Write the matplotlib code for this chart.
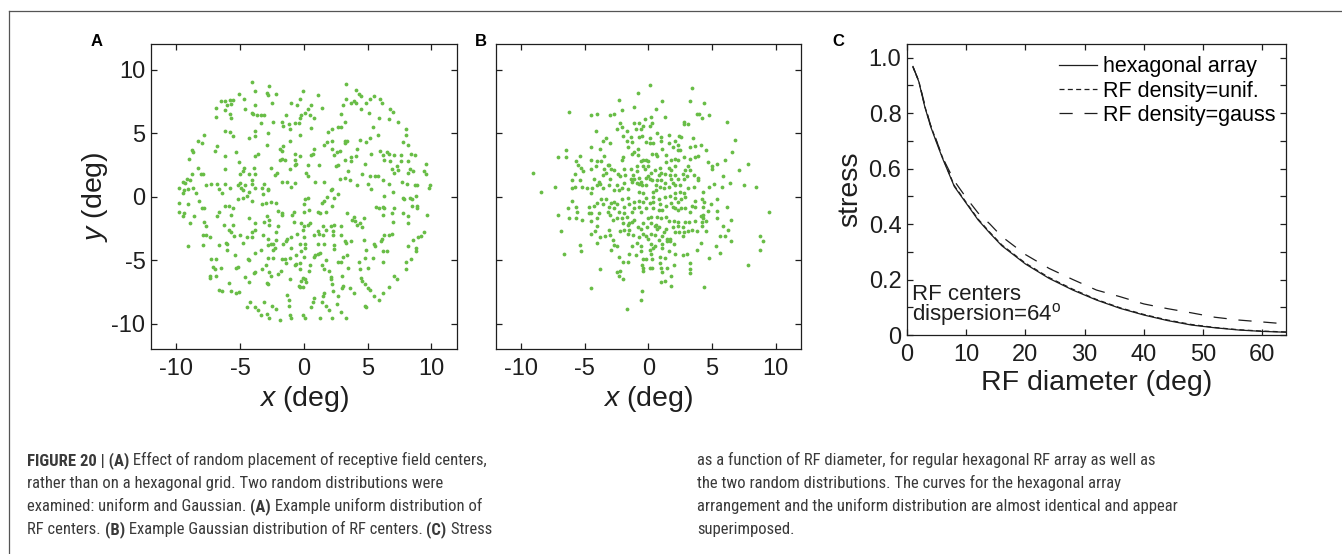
import numpy as np
import matplotlib
matplotlib.use("Agg")
import matplotlib.pyplot as plt
from matplotlib import font_manager as fm
from matplotlib.lines import Line2D
from matplotlib.ticker import FixedLocator, FixedFormatter

# RF centres, uniform placement (deg)
uniform_pts = [
    (-4.1, 9.0), (-2.7, 8.7), (3.3, 8.9), (-3.8, 8.3), (4.1, 8.4), (-2.9, 8.2), (-2.2, 8.1), (-0.1, 8.3),
    (-5.1, 8.1), (4.3, 8.1), (4.5, 7.9), (5.5, 7.9), (1.1, 8.0), (-4.7, 7.7), (5.2, 7.7), (6.0, 7.7),
    (-5.8, 7.6), (-5.6, 7.6), (-6.2, 7.5), (-6.5, 7.5), (-2.8, 8.0), (3.3, 7.7), (-0.3, 7.7), (3.9, 7.5),
    (4.1, 7.4), (3.7, 7.4), (4.9, 7.4), (6.1, 7.4), (-5.7, 7.3), (-6.0, 7.2), (-3.8, 7.2), (-2.5, 7.4),
    (-1.0, 7.4), (-0.5, 7.2), (0.6, 7.2), (3.1, 7.2), (-6.9, 7.0), (-4.6, 6.9), (0.3, 6.9), (1.4, 7.0),
    (4.5, 6.9), (6.8, 6.9), (7.0, 6.7), (-6.2, 6.8), (-5.8, 6.5), (-4.1, 6.6), (-4.0, 6.5), (-3.7, 6.4),
    (-3.4, 6.4), (-3.1, 6.4), (0.1, 6.6), (-0.2, 6.4), (0.5, 6.4), (0.8, 6.2), (-1.4, 6.4), (-6.9, 6.3),
    (-5.7, 6.2), (2.9, 6.5), (5.1, 6.6), (5.9, 6.2), (6.7, 6.1), (-0.3, 6.2), (-1.7, 5.9), (-1.2, 5.7),
    (-0.7, 5.8), (-0.4, 5.8), (-2.4, 5.9), (-3.4, 5.8), (3.2, 5.9), (7.4, 5.9), (-1.6, 5.6), (-1.1, 5.3),
    (0.6, 5.4), (5.4, 5.5), (2.9, 5.5), (2.7, 5.5), (8.0, 5.3), (2.2, 5.3), (1.9, 5.1), (-6.2, 5.2),
    (-5.8, 5.1), (-5.6, 4.8), (-3.8, 5.2), (-3.8, 4.8), (-2.8, 5.0), (-0.3, 4.9), (5.8, 4.9), (8.0, 4.9),
    (-7.8, 4.9), (-4.3, 4.6), (-1.1, 4.4), (2.2, 4.4), (3.2, 4.4), (3.4, 4.4), (4.4, 4.5), (5.2, 4.6),
    (4.9, 4.3), (7.8, 4.3), (8.2, 4.1), (-8.3, 4.4), (-8.0, 4.2), (-6.8, 4.0), (-2.9, 4.1), (-1.6, 4.0),
    (1.8, 4.3), (1.6, 4.1), (3.2, 4.2), (-1.9, 3.8), (-1.7, 3.6), (0.8, 3.8), (4.2, 3.8), (-8.8, 3.7),
    (-8.7, 3.5), (-7.0, 3.6), (-5.3, 3.5), (-3.6, 3.4), (-3.8, 3.2), (-0.7, 3.4), (-0.3, 3.2), (0.6, 3.3),
    (0.75, 3.35), (2.2, 3.8), (2.6, 3.5), (2.8, 3.6), (2.4, 3.3), (5.3, 3.4), (6.0, 3.6), (6.5, 3.5),
    (6.7, 3.4), (6.2, 3.3), (7.1, 3.3), (7.6, 3.3), (8.4, 3.4), (8.7, 3.3), (-9.0, 3.0), (-6.2, 3.2),
    (-1.7, 3.0), (-1.5, 2.9), (-1.9, 2.9), (-0.7, 2.9), (-0.6, 2.6), (-0.7, 2.5), (0.3, 2.5), (1.2, 2.5),
    (3.2, 2.9), (3.7, 3.1), (4.1, 3.2), (3.7, 2.8), (4.8, 2.6), (6.3, 2.9), (6.8, 2.8), (7.6, 2.8),
    (8.2, 2.8), (9.6, 2.6), (-5.1, 2.7), (-8.3, 2.3), (-6.2, 2.2), (-4.7, 2.3), (-3.9, 2.3), (-2.6, 2.3),
    (-4.8, 2.0), (-5.0, 1.8), (-4.3, 1.8), (-3.8, 1.8), (-8.1, 1.8), (-7.9, 1.8), (-8.8, 1.8), (-2.1, 1.9),
    (-2.3, 1.7), (-1.1, 2.2), (0.2, 1.9), (2.5, 2.4), (2.7, 2.5), (3.5, 2.0), (4.6, 1.8), (5.2, 1.6),
    (5.6, 1.6), (5.8, 1.65), (6.9, 2.2), (7.1, 1.9), (7.4, 2.1), (7.3, 2.4), (8.3, 2.2), (8.2, 1.9),
    (8.6, 2.0), (9.4, 2.0), (9.6, 1.8), (-9.2, 1.4), (-9.5, 1.2), (-9.3, 1.1), (-9.8, 0.7), (-9.4, 0.5),
    (-8.9, 1.3), (-9.1, 0.6), (-8.7, 0.7), (-7.7, 0.9), (-7.3, 1.0), (-6.8, 1.0), (-6.2, 1.0), (-5.8, 0.7),
    (-6.7, 0.6), (-5.0, 1.1), (-5.2, 0.9), (-4.9, 0.7), (-4.6, 0.9), (-4.1, 1.3), (-4.1, 1.0), (-3.8, 0.7),
    (-3.3, 0.7), (-3.1, 1.0), (-2.8, 0.6), (-1.7, 1.2), (-1.3, 1.2), (-1.0, 0.8), (-0.7, 1.1), (0.3, 1.6),
    (0.9, 1.2), (1.6, 1.2), (2.2, 0.6), (2.8, 1.4), (3.2, 1.5), (3.6, 1.3), (4.2, 0.9), (5.0, 1.0),
    (5.3, 0.6), (6.2, 1.3), (6.7, 1.0), (7.0, 0.4), (7.7, 1.2), (8.1, 1.0), (8.7, 0.9), (8.9, 0.9),
    (9.9, 0.9), (9.8, 0.7), (-9.5, 0.3), (-8.5, 0.3), (-6.4, 0.3), (-4.8, 0.5), (-4.3, 0.4), (-2.8, 0.5),
    (2.1, 0.5), (-3.2, 0.2), (-4.5, 0.1),
    (-9.8, -0.5), (-9.1, -0.6), (-8.2, -0.3), (-9.8, -1.2), (-9.4, -1.3), (-9.5, -1.5), (-8.6, -1.5),
    (-8.9, -2.1), (-8.0, -0.9), (-7.8, -0.9), (-7.8, -2.0), (-7.7, -2.3), (-7.9, -3.0), (-7.7, -3.0),
    (-7.4, -3.2), (-7.9, -3.8), (-9.1, -3.9), (-6.7, -1.2), (-6.8, -1.5), (-6.2, -0.7), (-5.9, -0.7),
    (-5.7, -1.4), (-5.6, -0.9), (-6.3, -2.2), (-5.6, -2.2), (-5.9, -2.6), (-5.7, -2.8), (-5.5, -3.1),
    (-5.0, -3.0), (-6.1, -3.6), (-6.0, -3.7), (-6.7, -3.8), (-6.0, -4.2), (-4.8, -3.6), (-4.5, -3.2),
    (-4.1, -3.2), (-4.1, -2.8), (-3.8, -2.6), (-3.8, -2.1), (-4.3, -1.7), (-5.2, -0.2), (-4.8, -0.1),
    (-4.1, -0.3), (-3.3, -0.6), (-3.0, -0.5), (-2.6, -0.4), (-2.2, -0.5), (-2.0, -1.1), (-1.7, -1.4),
    (-2.9, -1.5), (-2.7, -1.8), (-3.1, -2.0), (-2.7, -2.2), (-2.0, -2.3), (-3.2, -3.0), (-2.8, -3.3),
    (-2.6, -3.7), (-2.8, -3.8), (-2.4, -3.7), (-2.2, -3.4), (-2.2, -2.8), (-2.3, -4.0), (-2.4, -4.2),
    (-2.8, -4.8), (-2.4, -4.8), (-3.4, -4.2), (-3.8, -4.4), (-4.4, -4.9), (-4.3, -5.0), (-5.4, -4.6),
    (-7.3, -4.9), (-6.9, -4.9), (-6.5, -5.6), (-7.1, -5.5), (-7.0, -5.7), (-7.4, -6.2), (-6.9, -6.2),
    (-7.4, -6.4), (-5.3, -5.6), (-5.2, -5.5), (-4.6, -6.3), (-3.8, -5.9), (-3.9, -6.0), (-3.3, -5.7),
    (-3.0, -5.4), (-2.7, -5.9), (-2.6, -6.2), (-2.0, -6.1), (-1.8, -5.8), (-4.3, -6.7), (-5.9, -6.8),
    (-2.9, -6.8), (-2.8, -6.9), (-6.7, -7.3), (-6.4, -7.4), (-5.7, -7.4), (-5.3, -7.6), (-5.1, -7.5),
    (-4.2, -8.3), (-4.5, -8.7), (-3.8, -8.7), (-3.6, -8.9), (-3.4, -9.3), (-2.9, -9.2), (-2.7, -9.5),
    (-3.1, -8.3), (-2.5, -8.6), (-2.2, -8.8), (-1.9, -9.7), (-1.3, -7.7), (-1.2, -8.1), (-1.2, -8.6),
    (-1.1, -9.3), (-1.0, -9.5), (-1.1, -6.5), (-1.5, -4.9), (-1.7, -4.9), (-1.4, -5.2), (-1.6, -3.7),
    (-1.4, -3.5), (-1.3, -3.3), (-1.0, -4.0), (-0.7, -5.4), (-0.6, -5.3), (-0.3, -5.2), (-0.2, -4.3),
    (-0.6, -4.6), (-1.1, -4.8), (-1.7, -1.3), (-0.8, -1.2), (-0.9, -1.4), (-0.5, -2.9), (-0.2, -2.1),
    (0.0, -2.3), (-0.1, -2.6), (0.3, -2.2), (0.5, -2.1), (0.0, -0.6), (0.3, -0.1), (0.1, -0.15),
    (0.4, -1.0), (0.0, -3.2), (0.1, -3.7), (-0.3, -3.7), (0.1, -4.0), (-0.1, -6.4), (0.1, -6.5),
    (0.2, -6.7), (-0.3, -7.1), (-0.1, -7.1), (-0.4, -7.0), (0.4, -5.8), (0.5, -5.4), (0.8, -4.7),
    (0.9, -4.6), (1.1, -4.5), (1.3, -4.4), (1.4, -5.4), (1.6, -5.7), (1.7, -5.0), (2.0, -5.8),
    (1.6, -3.7), (1.1, -3.7), (0.8, -3.0), (1.1, -2.7), (1.2, -2.9), (1.5, -3.0), (1.7, -2.6),
    (1.5, -2.3), (2.3, -3.0), (2.3, -2.7), (2.1, -2.3), (2.4, -2.2), (2.9, -2.3), (2.9, -3.0),
    (2.4, -3.8), (2.4, -4.1), (3.2, -3.5), (3.3, -3.6), (3.7, -3.5), (3.1, -4.7), (2.7, -5.1),
    (2.9, -5.1), (3.4, -4.6), (3.5, -5.6), (3.0, -6.2), (2.1, -6.3), (2.1, -6.5), (2.2, -6.9),
    (2.3, -7.4), (3.1, -7.0), (3.0, -7.2), (3.6, -7.2), (3.9, -7.6), (2.7, -7.8), (2.6, -8.4),
    (2.9, -9.1), (3.3, -9.5), (2.2, -9.5), (2.0, -8.9), (1.7, -8.6), (1.5, -7.8), (1.6, -7.6),
    (1.4, -8.3), (0.8, -8.0), (0.7, -8.3), (0.6, -8.7), (1.3, -9.5), (0.1, -9.5), (-0.1, -9.3),
    (1.1, -1.2), (1.3, -1.3), (1.7, -1.2), (1.4, -0.5), (1.6, -0.3), (1.8, 0.0), (2.4, -0.1),
    (2.7, 0.2), (2.2, -0.7), (3.4, -1.3), (3.9, -1.6), (4.0, -1.9), (4.2, -2.2), (4.4, -2.1),
    (4.7, -1.7), (4.6, -2.4), (4.7, -3.4), (4.9, -4.2), (4.3, -5.1), (4.4, -5.7), (5.0, -5.6),
    (4.8, -4.8), (5.4, -4.8), (6.2, -5.1), (5.5, -3.7), (5.6, -3.9), (6.1, -3.3), (6.3, -3.0),
    (6.05, -3.45), (6.7, -3.0), (6.9, -2.9), (6.2, -4.3), (6.5, -4.3), (4.5, -6.4), (4.6, -6.6),
    (4.8, -6.9), (5.0, -7.2), (5.2, -7.3), (5.5, -7.8), (5.9, -8.1), (6.2, -7.6), (4.8, -8.6),
    (4.9, -8.65), (6.7, -7.1), (7.1, -6.2), (7.3, -6.5), (8.0, -5.1), (8.4, -4.9), (8.0, -5.7),
    (8.2, -3.9), (8.8, -4.0), (8.8, -4.3), (8.6, -3.4), (9.0, -3.2), (9.2, -3.1), (9.4, -2.8),
    (7.0, -2.0), (8.2, -2.1), (8.2, -1.5), (7.8, -1.3), (6.9, -1.3), (6.2, -1.4), (6.3, -0.9),
    (5.7, -0.8), (5.9, -0.9), (6.2, -0.8), (7.1, -0.9), (6.3, 0.1), (7.8, -0.1), (7.9, -0.15),
    (8.3, -0.1), (8.5, -0.2), (8.8, 0.1), (8.9, -0.7), (8.9, -0.9), (8.5, -0.7), (9.7, -1.4),
    (3.8, -1.8), (0.0, -1.2), (-0.8, -2.0), (-1.0, -3.2), (-0.3, -5.7), (0.0, -4.7), (-0.2, -6.6),
]

# RF centres, Gaussian placement (deg)
gauss_pts = [
    (0.1, 8.8), (3.4, 8.6), (-0.8, 8.2), (-2.3, 7.6), (3.3, 7.5), (4.4, 7.4), (1.1, 7.5), (-6.2, 6.7),
    (-2.1, 6.8), (-1.1, 7.1), (0.6, 6.9), (-4.0, 6.5), (-4.5, 6.4), (-3.0, 6.4), (-2.7, 6.5), (3.8, 6.5),
    (4.0, 6.5), (4.2, 6.2), (4.8, 6.4), (1.3, 6.3), (0.2, 6.3), (-0.3, 6.1), (6.2, 5.9), (2.8, 5.9),
    (2.8, 5.7), (3.1, 5.7), (-2.2, 5.8), (-2.1, 5.5), (-1.1, 5.8), (-0.7, 5.8), (0.3, 5.8), (0.1, 5.6),
    (-0.4, 5.6), (-2.5, 5.3), (-1.7, 5.2), (-1.0, 5.3), (-0.6, 5.3), (0.7, 5.0), (1.6, 4.9), (-4.1, 5.2),
    (2.4, 4.8), (2.6, 4.7), (-2.0, 4.8), (-1.4, 4.7), (-0.7, 4.7), (-0.5, 4.8), (0.1, 4.6), (1.0, 4.7),
    (1.0, 4.4), (2.1, 4.4), (3.5, 4.6), (6.8, 4.5), (-3.3, 4.6), (-3.6, 4.4), (-3.0, 4.2), (-1.7, 4.4),
    (-1.3, 4.3), (-0.2, 4.3), (0.1, 4.2), (0.4, 4.2), (1.6, 4.2), (2.3, 4.1), (3.3, 3.9), (3.7, 4.0),
    (4.1, 4.1), (-4.5, 3.9), (-3.8, 3.8), (-6.5, 3.7), (-1.6, 3.9), (-0.8, 3.8), (1.1, 3.8), (1.9, 3.9),
    (2.3, 3.7), (2.5, 3.7), (4.5, 3.7), (6.6, 3.5), (-5.4, 3.2), (-7.1, 3.1), (-6.5, 3.1), (-4.5, 2.9),
    (-4.0, 2.8), (-3.7, 2.8), (-3.5, 3.2), (-2.1, 2.9), (-2.0, 3.1), (-1.3, 3.4), (-1.1, 3.5), (-0.8, 3.3),
    (-0.6, 2.8), (-0.4, 2.9), (-0.2, 2.9), (0.0, 2.8), (0.3, 3.4), (0.6, 3.4), (0.7, 3.2), (1.4, 3.3),
    (1.8, 2.9), (2.1, 3.0), (2.3, 2.9), (2.8, 3.1), (3.3, 3.0), (3.7, 3.1), (3.9, 3.2), (4.7, 2.7),
    (5.0, 2.4), (5.0, 2.2), (5.4, 2.6), (6.0, 2.9), (7.8, 2.6), (7.1, 2.1), (-5.7, 2.8), (-5.5, 2.5),
    (-5.3, 2.3), (-5.8, 1.8), (-5.1, 2.0), (-4.5, 2.2), (-4.1, 2.4), (-3.5, 2.2), (-3.2, 2.5), (-3.1, 2.5),
    (-2.9, 2.2), (-2.7, 2.1), (-2.4, 1.8), (-2.2, 1.6), (-3.3, 1.9), (-3.0, 1.4), (-3.6, 1.7), (-4.3, 1.4),
    (-3.9, 1.2), (-3.8, 1.0), (-6.0, 1.3), (-5.4, 1.3), (-7.3, 0.8), (-8.4, 0.4), (-9.1, 1.9), (-6.0, 0.7),
    (-5.8, 0.8), (-5.2, 0.8), (-4.8, 0.7), (-4.4, 0.7), (-4.0, 0.9), (-3.6, 0.7), (-1.9, 2.2), (-1.4, 2.2),
    (-0.9, 2.4), (-0.9, 2.0), (-0.4, 2.4), (-0.3, 2.2), (0.0, 2.4), (0.5, 2.1), (0.9, 2.3), (1.4, 2.7),
    (1.6, 2.3), (1.8, 2.1), (2.1, 2.4), (2.9, 2.1), (3.0, 1.6), (3.6, 1.7), (3.9, 1.5), (3.9, 1.3),
    (5.9, 1.6), (6.4, 1.1), (7.5, 0.9), (8.5, 0.8), (5.2, 1.0), (4.8, 0.8), (5.8, 0.8), (4.3, 0.4),
    (-1.4, 1.4), (-1.2, 1.7), (-1.3, 1.2), (-1.9, 1.1), (-2.1, 0.7), (-2.3, 0.5), (-1.6, 0.6), (-0.9, 1.1),
    (-0.7, 1.0), (-0.5, 0.9), (-0.2, 0.9), (0.0, 1.6), (0.1, 1.4), (0.3, 1.3), (0.7, 1.3), (1.0, 1.3),
    (0.9, 0.8), (1.2, 0.7), (1.6, 0.8), (1.8, 1.4), (1.9, 1.1), (2.1, 0.9), (2.5, 0.9), (2.8, 1.4),
    (3.1, 0.7), (3.6, 0.8), (-0.7, 0.4), (-0.4, 0.3), (0.4, 0.4), (0.6, 0.5), (2.1, 0.3), (2.5, 0.4),
    (2.8, 0.3), (-4.5, 0.3), (-0.7, 1.5), (-0.6, 1.2), (-0.2, 1.5), (0.6, 0.9), (1.3, 1.1), (1.7, 1.7),
    (2.1, 1.7), (2.3, 1.4), (2.7, 1.8), (3.1, 2.4), (3.3, 2.1), (0.8, 1.7), (1.0, 1.9), (1.3, 1.8),
    (0.2, 1.9), (-1.1, 1.4), (-1.8, 1.7), (-2.5, 0.9), (-3.1, 0.9), (-2.7, 0.5),
    (-6.0, -0.3), (-6.3, -0.9), (-7.1, -1.4), (-5.7, -0.8), (-5.6, -1.2), (-6.2, -1.7), (-5.7, -1.7),
    (-5.2, -1.8), (-4.7, -0.8), (-4.7, -1.3), (-4.5, -1.3), (-4.3, -0.7), (-4.0, -0.5), (-3.7, -0.2),
    (-3.9, -1.3), (-4.0, -1.7), (-4.5, -1.9), (-4.0, -2.3), (-6.9, -2.7), (-5.4, -3.8), (-5.3, -4.3),
    (-6.6, -4.5), (-4.2, -2.7), (-4.5, -2.9), (-3.8, -3.2), (-4.0, -3.6), (-3.4, -3.1), (-3.1, -2.6),
    (-3.0, -3.0), (-2.8, -3.4), (-2.7, -3.8), (-2.9, -4.2), (-2.5, -3.9), (-2.3, -4.7), (-2.0, -5.1),
    (-1.6, -5.1), (-3.8, -5.7), (-2.5, -5.9), (-2.2, -5.8), (-2.3, -6.2), (-2.0, -6.5), (-4.5, -7.2),
    (-2.9, -0.5), (-2.7, -0.9), (-2.3, -1.2), (-2.7, -0.4), (-2.1, -0.2), (-1.9, -0.8), (-2.5, -1.7),
    (-2.1, -1.7), (-1.9, -1.3), (-1.7, -1.6), (-1.5, -2.1), (-2.0, -2.1), (-1.6, -2.2), (-1.3, -2.0),
    (-0.8, -2.4), (-2.2, -2.7), (-1.9, -2.6), (-1.6, -2.9), (-1.2, -3.0), (-0.7, -3.2), (-0.9, -3.6),
    (-1.3, -3.9), (-0.6, -3.9), (-1.0, -4.6), (-0.6, -4.3), (-1.5, -4.5), (-0.4, -4.9), (-0.5, -5.4),
    (-0.4, -5.6), (-0.4, -5.8), (0.1, -5.6), (0.3, -5.6), (0.9, -5.2), (1.0, -5.6), (1.1, -5.9),
    (1.3, -6.6), (1.8, -7.0), (1.8, -6.2), (2.0, -5.4), (0.9, -4.7), (1.3, -4.8), (0.3, -4.9),
    (-0.2, -4.9), (0.1, -4.2), (0.4, -4.0), (0.5, -3.9), (0.2, -3.7), (0.0, -3.3), (-0.2, -3.1),
    (-0.4, -2.9), (0.2, -2.9), (0.5, -3.0), (0.8, -3.4), (1.1, -3.1), (1.1, -3.7), (1.5, -3.3),
    (1.7, -3.3), (1.5, -3.5), (1.7, -3.5), (2.0, -3.7), (1.1, -4.0), (1.6, -4.3), (2.1, -4.5),
    (2.7, -4.6), (3.0, -4.5), (3.3, -5.2), (3.3, -5.7), (3.8, -4.2), (4.1, -3.6), (2.7, -3.1),
    (2.4, -2.8), (2.1, -2.8), (2.8, -2.8), (3.1, -2.7), (3.4, -2.6), (3.8, -2.7), (4.5, -2.7),
    (1.9, -2.4), (2.3, -2.3), (2.7, -2.4), (1.4, -2.5), (1.2, -2.8), (0.5, -2.3), (0.7, -2.5),
    (0.8, -2.4), (0.6, -2.25), (0.2, -2.1), (-0.1, -2.4), (-0.4, -2.1), (0.0, -1.7), (0.2, -1.6),
    (0.7, -1.6), (1.0, -1.7), (1.4, -1.6), (1.6, -1.9), (2.0, -1.9), (2.3, -2.0), (2.9, -2.0),
    (3.2, -2.0), (3.7, -1.9), (4.2, -2.3), (4.2, -2.0), (4.5, -1.9), (4.3, -1.7), (4.1, -1.5),
    (4.3, -1.4), (5.4, -1.7), (6.5, -1.8), (5.9, -2.3), (6.3, -2.6), (5.6, -3.1), (6.0, -3.1),
    (6.5, -3.5), (5.3, -3.9), (5.6, -4.4), (4.8, -4.8), (4.4, -7.1), (7.8, -5.4), (8.8, -4.2),
    (9.0, -3.5), (8.8, -3.1), (9.5, -1.2), (-0.5, -7.4), (-0.6, -8.1), (-1.7, -8.8), (5.4, -1.1),
    (5.4, -0.2), (6.2, -0.8), (4.9, -0.6), (4.7, -1.1), (4.3, -0.8), (3.7, -0.8), (3.4, -0.7),
    (3.7, -0.3), (4.2, -0.2), (4.4, -0.4), (2.9, -0.9), (3.3, -1.2), (2.6, -0.9), (2.1, -0.9),
    (2.3, -1.0), (1.9, -0.8), (1.4, -0.7), (1.8, -0.5), (2.3, -0.4), (2.6, -0.2), (2.1, -0.1),
    (2.9, 0.0), (1.1, -1.0), (0.8, -1.0), (0.4, -0.9), (0.9, -0.6), (0.4, -0.4), (0.1, -0.5),
    (-0.2, -0.9), (-0.6, -1.2), (-0.7, -0.8), (-1.1, -0.9), (-1.3, -1.2), (-1.5, -0.6), (-1.1, -0.4),
    (-0.7, -0.3), (-0.4, -0.4), (-0.2, -0.1), (0.4, 0.0), (0.8, -0.2), (1.3, 0.0), (1.7, 0.1),
    (-1.6, -0.1), (-2.5, -0.6), (-3.1, -0.8), (-3.6, -0.6), (-3.3, -0.2), (-3.2, -1.2), (-3.0, -1.4),
    (-2.8, -1.8), (-1.5, -2.6), (-1.1, -1.8), (-0.6, -2.5), (0.2, -4.5), (1.5, -5.6), (3.3, -6.0),
    (1.0, -6.7),
]

# stress vs RF diameter (RF centres dispersion = 64 deg)
rf_diam = [1, 2, 3, 4, 5, 6, 8, 10, 12, 14, 16, 20, 24, 28, 32, 36, 40, 44, 48, 52, 56, 60, 64]
stress_hex = [0.968, 0.913, 0.823, 0.751, 0.693, 0.637, 0.535, 0.475, 0.415, 0.367, 0.322, 0.256,
              0.204, 0.162, 0.126, 0.096, 0.072, 0.052, 0.036, 0.026, 0.018, 0.013, 0.010]
stress_unif = [0.966, 0.915, 0.825, 0.755, 0.697, 0.640, 0.538, 0.478, 0.418, 0.370, 0.325, 0.259,
               0.207, 0.165, 0.128, 0.098, 0.074, 0.054, 0.038, 0.027, 0.019, 0.014, 0.011]
stress_gauss = [0.968, 0.915, 0.830, 0.755, 0.700, 0.640, 0.555, 0.495, 0.440, 0.400, 0.355, 0.290,
                0.240, 0.200, 0.162, 0.138, 0.112, 0.095, 0.080, 0.064, 0.054, 0.047, 0.040]

caption_left = [
    [("FIGURE 20 | (A)", "bold"), (" Effect of random placement of receptive field centers,", "normal")],
    [("rather than on a hexagonal grid. Two random distributions were", "normal")],
    [("examined: uniform and Gaussian. ", "normal"), ("(A)", "bold"), (" Example uniform distribution of", "normal")],
    [("RF centers. ", "normal"), ("(B)", "bold"), (" Example Gaussian distribution of RF centers. ", "normal"),
     ("(C)", "bold"), (" Stress", "normal")],
]
caption_right = [
    [("as a function of RF diameter, for regular hexagonal RF array as well as", "normal")],
    [("the two random distributions. The curves for the hexagonal array", "normal")],
    [("arrangement and the uniform distribution are almost identical and appear", "normal")],
    [("superimposed.", "normal")],
]

plt.rcParams.update({
    "font.family": ["Liberation Sans", "DejaVu Sans"],
    "mathtext.fontset": "custom",
    "mathtext.rm": "Liberation Sans",
    "mathtext.it": "Liberation Sans:italic",
    "axes.unicode_minus": False,
    "lines.scale_dashes": False,
})

W, H = 1342, 554
GREEN = "#68bd46"
INK = "#1e1e1e"

fig = plt.figure(figsize=(W / 100, H / 100), dpi=100)


def px_box(left, top, right, bottom):
    return [left / W, 1 - bottom / H, (right - left) / W, (bottom - top) / H]


def style_axes(ax):
    for sp in ax.spines.values():
        sp.set_linewidth(0.9)
        sp.set_color(INK)
    ax.tick_params(direction="in", top=True, right=True, length=4, width=0.9,
                   color=INK, labelcolor=INK, labelsize=17)
    ax.tick_params(axis="x", pad=6.5)
    ax.tick_params(axis="y", pad=4)


def scatter_panel(ax, pts, ylabels=True):
    arr = np.array(pts)
    ax.scatter(arr[:, 0], arr[:, 1], s=7.5, color=GREEN, linewidths=0)
    ax.set_xlim(-12, 12)
    ax.set_ylim(-12, 12)
    ax.set_xticks([-10, -5, 0, 5, 10])
    ax.set_yticks([-10, -5, 0, 5, 10])
    style_axes(ax)
    ax.set_xlabel(r"$\mathit{x}$ (deg)", fontsize=20.5, color=INK, labelpad=3)
    if ylabels:
        ax.set_ylabel(r"$\mathit{y}$ (deg)", fontsize=20.5, color=INK, labelpad=1)
    else:
        ax.set_yticklabels([])


axA = fig.add_axes(px_box(151, 44.3, 456.7, 349.3))
scatter_panel(axA, uniform_pts)
axB = fig.add_axes(px_box(495.7, 44.3, 801, 349.3))
scatter_panel(axB, gauss_pts, ylabels=False)

axC = fig.add_axes(px_box(907, 44.3, 1286, 335))
axC.plot(rf_diam, stress_hex, color=INK, lw=0.9, label="hexagonal array")
axC.plot(rf_diam, stress_unif, color=INK, lw=0.9, dashes=(3.6, 2.4), label="RF density=unif.")
axC.plot(rf_diam, stress_gauss, color=INK, lw=0.9, dashes=(9.5, 8.5), label="RF density=gauss")
axC.set_xlim(0, 64)
axC.set_ylim(0, 1.048)
axC.set_xticks([0, 10, 20, 30, 40, 50, 60])
yt = [round(0.1 * i, 1) for i in range(11)]
axC.yaxis.set_major_locator(FixedLocator(yt))
axC.yaxis.set_major_formatter(FixedFormatter(
    ["0", "", "0.2", "", "0.4", "", "0.6", "", "0.8", "", "1.0"]))
style_axes(axC)
axC.set_xlabel("RF diameter (deg)", fontsize=20.5, color=INK, labelpad=3)
axC.set_ylabel("stress", fontsize=20.5, color=INK, labelpad=4)
axC.legend(loc="upper right", bbox_to_anchor=(0.984, 0.973), frameon=False, fontsize=15.5,
           handlelength=1.75, handletextpad=0.3, labelspacing=0.15, borderaxespad=0.0,
           borderpad=0.2)
# multi-line text: baseline alignment follows the last line
axC.text(0.8, 0.052, "RF centers\n" + r"dispersion=64$^\mathregular{o}$", fontsize=16,
         color=INK, va="baseline", linespacing=0.82)

for letter, x, y in (("A", 96.7, 41.7), ("B", 480.7, 41.7), ("C", 838, 41.7)):
    fig.text(x / W, 1 - y / H, letter, fontsize=12, fontweight="bold", color="black",
             ha="center", va="center")

# page frame
fig.add_artist(Line2D([8.5 / W, 1.0], [1 - 11 / H, 1 - 11 / H], color="#555555", lw=0.9))
fig.add_artist(Line2D([8.5 / W, 8.5 / W], [0.0, 1 - 11 / H], color="#555555", lw=0.9))

# caption, set in a narrow face when one is installed
names = {f.name for f in fm.fontManager.ttflist}
cap_family, cap_size = "Liberation Sans", 10.6
for cand in ("Liberation Sans Narrow", "Roboto Condensed", "Noto Sans Condensed",
             "Open Sans Condensed", "Noto Sans SemiCondensed", "Open Sans SemiCondensed"):
    if cand in names:
        cap_family, cap_size = cand, 12.0
        break
CAP_INK = "#3a3a3a"
renderer = fig.canvas.get_renderer()


def caption_line(x_px, y_px, parts):
    x = x_px
    for s, w in parts:
        t = fig.text(x / W, 1 - y_px / H, s, fontsize=cap_size, fontweight=w,
                     family=cap_family, color=CAP_INK, ha="left", va="baseline")
        x += t.get_window_extent(renderer=renderer).width


for i, parts in enumerate(caption_left):
    caption_line(27, 465 + 23 * i, parts)
for i, parts in enumerate(caption_right):
    caption_line(697, 465 + 23 * i, parts)

fig.savefig("out.png", dpi=100)
